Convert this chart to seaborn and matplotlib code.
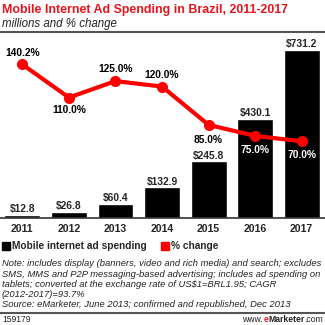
import matplotlib
matplotlib.use("Agg")
import matplotlib.pyplot as plt
from matplotlib.text import Annotation
import seaborn as sns
import pandas as pd
from matplotlib.patches import Rectangle

years = ["2011", "2012", "2013", "2014", "2015", "2016", "2017"]
spending = [12.8, 26.8, 60.4, 132.9, 245.8, 430.1, 731.2]
pct_change = [140.2, 110.0, 125.0, 120.0, 85.0, 75.0, 70.0]
bar_labels = ["$12.8", "$26.8", "$60.4", "$132.9", "$245.8", "$430.1", "$731.2"]
pct_labels = ["140.2%", "110.0%", "125.0%", "120.0%", "85.0%", "75.0%", "70.0%"]

title = "Mobile Internet Ad Spending in Brazil, 2011-2017"
subtitle = "millions and % change"
note = ("Note: includes display (banners, video and rich media) and search; excludes\n"
        "SMS, MMS and P2P messaging-based advertising; includes ad spending on\n"
        "tablets; converted at the exchange rate of US$1=BRL1.95; CAGR\n"
        "(2012-2017)=93.7%\n"
        "Source: eMarketer, June 2013; confirmed and republished, Dec 2013")

sns.set_style("white")
plt.rcParams['font.family'] = ['Liberation Sans', 'DejaVu Sans']

df = pd.DataFrame({"year": years, "spending": spending, "pct": pct_change})

W = H = 325
fig = plt.figure(figsize=(3.25, 3.25), dpi=100)

def fy(y):
    return 1 - y / H

ax_bottom = fy(218)
ax_top = fy(34)
ax = fig.add_axes([0.0, ax_bottom, 1.0, ax_top - ax_bottom])
sns.barplot(data=df, x="year", y="spending", color="black", width=0.77,
            saturation=1, ax=ax)
ax.set_xlim(-0.48, 6.5)
ax.set_ylim(0, 800)
for sp in ax.spines.values():
    sp.set_visible(False)
ax.set_xlabel("")
ax.set_ylabel("")
ax.set_yticks([])
ax.tick_params(axis="x", length=0, pad=4)
ax.set_xticks(range(len(years)))
ax.set_xticklabels(years, fontsize=7.6, fontweight="bold")
ax.axhline(0, color="#333333", lw=1.2, clip_on=False)

for i, (v, lab) in enumerate(zip(spending, bar_labels)):
    ax.annotate(lab, (i, v), xytext=(0, 0.5), textcoords="offset points",
                ha="center", va="bottom", fontsize=7.4, fontweight="bold")

ax2 = ax.twinx()
sns.lineplot(data=df, x="year", y="pct", color="#ff0000", lw=3, marker="o",
             markersize=8, markeredgewidth=0, ax=ax2, sort=False)
ax2.set_ylim(0, 168)
ax2.set_yticks([])
ax2.set_ylabel("")
for sp in ax2.spines.values():
    sp.set_visible(False)

offsets = [5, -5.5, 5, 5, -7.5, -6.5, -6]
for i, (v, lab, off) in enumerate(zip(pct_change, pct_labels, offsets)):
    col = "white" if i >= 5 else "black"
    ax2.annotate(lab, (i, v), xytext=(0, off), textcoords="offset points",
                 ha="center", va="bottom" if off > 0 else "top",
                 fontsize=7.4, fontweight="bold", color=col)

# Title and subtitle
fig.text(2 / W, fy(10), title, fontsize=8.95, fontweight="bold", color="#e8141c",
         va="center", ha="left")
fig.text(2 / W, fy(24), subtitle, fontsize=8.3, style="italic", color="#222222",
         va="center", ha="left")
fig.add_artist(plt.Line2D([0, 1], [fy(32), fy(32)], color="#555555", lw=1.5))

# Legend
fig.add_artist(Rectangle((2 / W, fy(250)), 8 / W, 8 / H, color="black",
                         transform=fig.transFigure))
fig.text(12 / W, fy(246), "Mobile internet ad spending", fontsize=7.3,
         fontweight="bold", va="center", ha="left")
fig.add_artist(Rectangle((161 / W, fy(250)), 8 / W, 8 / H, color="#ff0000",
                         transform=fig.transFigure))
fig.text(171 / W, fy(246), "% change", fontsize=7.3, fontweight="bold",
         va="center", ha="left")

# Notes
fig.text(2 / W, fy(259.5), note, fontsize=6.72, style="italic", color="#222222",
         va="top", ha="left", linespacing=1.16)
fig.add_artist(plt.Line2D([0, 1], [fy(313), fy(313)], color="#555555", lw=1.5))
fig.text(2 / W, fy(324), "159179", fontsize=6.2, color="#222222",
         va="bottom", ha="left")
t4 = fig.text(323 / W, fy(324), ".com", fontsize=6.2, color="#222222",
              va="bottom", ha="right")
an3 = fig.add_artist(Annotation(
    "Marketer", xy=(0, 0), xycoords=t4, ha="right", va="bottom",
    fontsize=6.2, color="#222222", fontweight="bold"))
an2 = fig.add_artist(Annotation(
    "e", xy=(0, 0), xycoords=an3, ha="right", va="bottom",
    fontsize=6.2, color="#e8141c", fontweight="bold"))
an1 = fig.add_artist(Annotation(
    "www.", xy=(0, 0), xycoords=an2, ha="right", va="bottom",
    fontsize=6.2, color="#222222"))

fig.savefig("out.png", dpi=100)
